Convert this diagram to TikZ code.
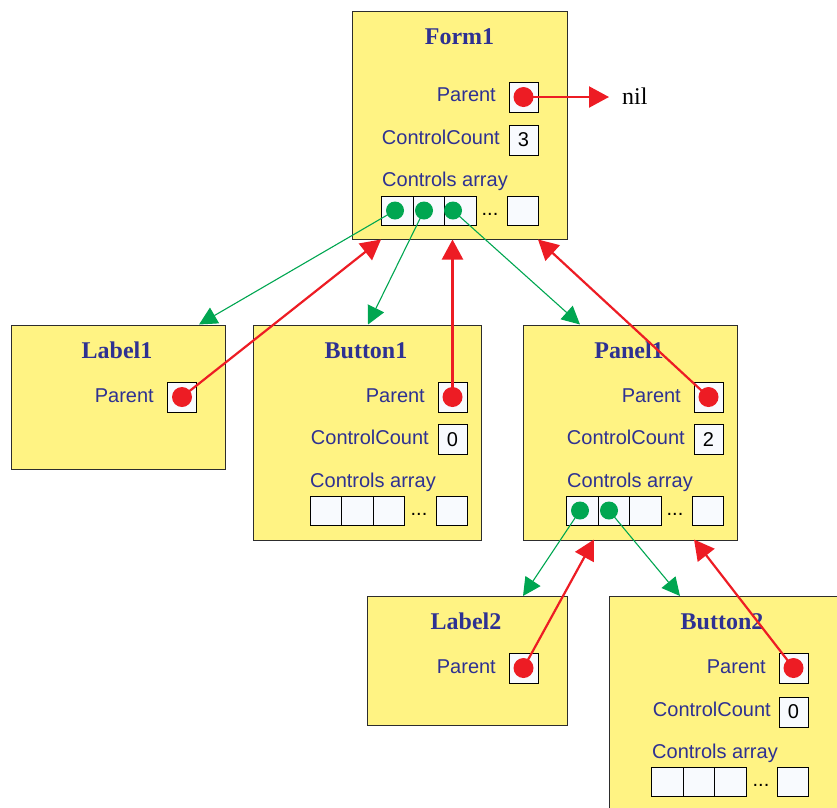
\documentclass[tikz,border=0pt]{standalone}
\usepackage{fontspec}
\setmainfont{Liberation Serif}
\setsansfont{Liberation Sans}
\usetikzlibrary{arrows.meta}
\definecolor{objyellow}{RGB}{255,243,131}
\definecolor{boxline}{RGB}{45,45,45}
\definecolor{navytext}{RGB}{46,49,146}
\definecolor{ptrred}{RGB}{237,28,36}
\definecolor{ptrgreen}{RGB}{0,166,81}
\definecolor{cellfill}{RGB}{248,250,254}
\tikzset{
  objbox/.style={draw=boxline, fill=objyellow, line width=1.3pt, anchor=north west, inner sep=0pt},
  objtitle/.style={anchor=base, inner sep=0pt, text=navytext, font=\rmfamily\bfseries\fontsize{24}{28}\selectfont},
  fieldlabel/.style={anchor=base east, inner sep=0pt, text=navytext, font=\sffamily\fontsize{20}{24}\selectfont},
  arraylabel/.style={anchor=base west, inner sep=0pt, text=navytext, font=\sffamily\fontsize{20}{24}\selectfont},
  ptrbox/.style={draw=black, fill=cellfill, line width=0.9pt, minimum width=29pt, minimum height=30pt, inner sep=0pt, font=\sffamily\fontsize{20}{24}\selectfont},
  cellbox/.style={draw=black, fill=cellfill, line width=0.9pt, minimum width=31.5pt, minimum height=29pt, inner sep=0pt, anchor=north west},
  dots/.style={inner sep=0pt, font=\sffamily\fontsize{20}{24}\selectfont},
  reddot/.style={circle, fill=ptrred, minimum size=20pt, inner sep=0pt},
  greendot/.style={circle, fill=ptrgreen, minimum size=18pt, inner sep=0pt},
  greenarr/.style={draw=ptrgreen, line width=1.1pt, -{Triangle[length=18pt,width=18pt]}},
  redarr/.style={draw=ptrred, line width=2.2pt, -{Triangle[length=20pt,width=21pt]}},
}
\begin{document}
\begin{tikzpicture}[x=1pt,y=-1pt]
\useasboundingbox (0,0) rectangle (837,807);

% ---------- Form1 ----------
\node[objbox, minimum width=215pt, minimum height=228pt] (form1) at (352,11) {};
\node[objtitle] (form1t) at (459.5,44) {Form1};
\node[fieldlabel] (form1pl) at (496,101) {Parent};
\node[ptrbox] (form1p) at (523.5,97) {};
\node[fieldlabel] (form1cl) at (500,144) {ControlCount};
\node[ptrbox] (form1c) at (523.5,140) {3};
\node[arraylabel] (form1al) at (382,186) {Controls array};
\node[cellbox] (form1a1) at (381,196) {};
\node[cellbox] (form1a2) at (412.5,196) {};
\node[cellbox] (form1a3) at (444,196) {};
\node[dots] (form1ad) at (490,214) {...};
\node[cellbox] (form1a4) at (506.5,196) {};
\node[reddot] (form1pd) at (523.5,97) {};
\node[greendot] (form1d1) at (395,210.5) {};
\node[greendot] (form1d2) at (424,210.5) {};
\node[greendot] (form1d3) at (453,210.5) {};
\node[anchor=base west, inner sep=0pt, font=\rmfamily\fontsize{24}{28}\selectfont] (nil) at (622,104) {nil};
\coordinate (niltip) at (609,97);

% ---------- Label1 ----------
\node[objbox, minimum width=214pt, minimum height=144pt] (label1) at (11,324.5) {};
\node[objtitle] (label1t) at (117,358) {Label1};
\node[fieldlabel] (label1pl) at (154,402) {Parent};
\node[ptrbox] (label1p) at (182,397) {};
\node[reddot] (label1pd) at (182,397) {};

% ---------- Button1 ----------
\node[objbox, minimum width=228pt, minimum height=215pt] (button1) at (253,324.5) {};
\node[objtitle] (button1t) at (366,358) {Button1};
\node[fieldlabel] (button1pl) at (425,402) {Parent};
\node[ptrbox] (button1p) at (452.5,397) {};
\node[fieldlabel] (button1cl) at (429,444) {ControlCount};
\node[ptrbox] (button1c) at (452.5,439.5) {0};
\node[arraylabel] (button1al) at (310,487) {Controls array};
\node[cellbox] (button1a1) at (309.5,496) {};
\node[cellbox] (button1a2) at (341,496) {};
\node[cellbox] (button1a3) at (372.5,496) {};
\node[dots] (button1ad) at (419,514) {...};
\node[cellbox] (button1a4) at (435.5,496) {};
\node[reddot] (button1pd) at (452.5,397) {};

% ---------- Panel1 ----------
\node[objbox, minimum width=214pt, minimum height=215pt] (panel1) at (523,324.5) {};
\node[objtitle] (panel1t) at (629,358) {Panel1};
\node[fieldlabel] (panel1pl) at (681,402) {Parent};
\node[ptrbox] (panel1p) at (708.5,397) {};
\node[fieldlabel] (panel1cl) at (685,444) {ControlCount};
\node[ptrbox] (panel1c) at (708.5,439.5) {2};
\node[arraylabel] (panel1al) at (567,487) {Controls array};
\node[cellbox] (panel1a1) at (566,496) {};
\node[cellbox] (panel1a2) at (597.5,496) {};
\node[cellbox] (panel1a3) at (629,496) {};
\node[dots] (panel1ad) at (675,514) {...};
\node[cellbox] (panel1a4) at (691.5,496) {};
\node[reddot] (panel1pd) at (708.5,397) {};
\node[greendot] (panel1d1) at (580,510.5) {};
\node[greendot] (panel1d2) at (609,510.5) {};

% ---------- Label2 ----------
\node[objbox, minimum width=200pt, minimum height=129pt] (label2) at (367,596) {};
\node[objtitle] (label2t) at (466,629) {Label2};
\node[fieldlabel] (label2pl) at (496,673) {Parent};
\node[ptrbox] (label2p) at (523.5,668) {};
\node[reddot] (label2pd) at (523.5,668) {};

% ---------- Button2 ----------
\node[objbox, minimum width=228pt, minimum height=240pt] (button2) at (609,596) {};
\node[objtitle] (button2t) at (722,629) {Button2};
\node[fieldlabel] (button2pl) at (766,673) {Parent};
\node[ptrbox] (button2p) at (793.5,668) {};
\node[fieldlabel] (button2cl) at (771,716) {ControlCount};
\node[ptrbox] (button2c) at (793.5,712) {0};
\node[arraylabel] (button2al) at (652,758) {Controls array};
\node[cellbox] (button2a1) at (651,767) {};
\node[cellbox] (button2a2) at (682.5,767) {};
\node[cellbox] (button2a3) at (714,767) {};
\node[dots] (button2ad) at (761,785) {...};
\node[cellbox] (button2a4) at (776.5,767) {};
\node[reddot] (button2pd) at (793.5,668) {};

% ---------- arrow end points ----------
\coordinate (label1in) at (199,324.5);
\coordinate (button1in) at (368,324.5);
\coordinate (panel1in) at (580,324.5);
\coordinate (label2in) at (523,596);
\coordinate (button2in) at (680,596);
\coordinate (form1outA) at (381,239.5);
\coordinate (form1outB) at (452.5,239.5);
\coordinate (form1outC) at (538,239.5);
\coordinate (panel1outA) at (594,539.5);
\coordinate (panel1outB) at (694,539.5);

% ---------- child pointers (green) ----------
\draw[greenarr] (form1d1.center) -- (label1in);
\draw[greenarr] (form1d2.center) -- (button1in);
\draw[greenarr] (form1d3.center) -- (panel1in);
\draw[greenarr] (panel1d1.center) -- (label2in);
\draw[greenarr] (panel1d2.center) -- (button2in);

% ---------- parent pointers (red) ----------
\draw[redarr] (form1pd.center) -- (niltip);
\draw[redarr] (label1pd.center) -- (form1outA);
\draw[redarr] (button1pd.center) -- (form1outB);
\draw[redarr] (panel1pd.center) -- (form1outC);
\draw[redarr] (label2pd.center) -- (panel1outA);
\draw[redarr] (button2pd.center) -- (panel1outB);
\end{tikzpicture}
\end{document}
